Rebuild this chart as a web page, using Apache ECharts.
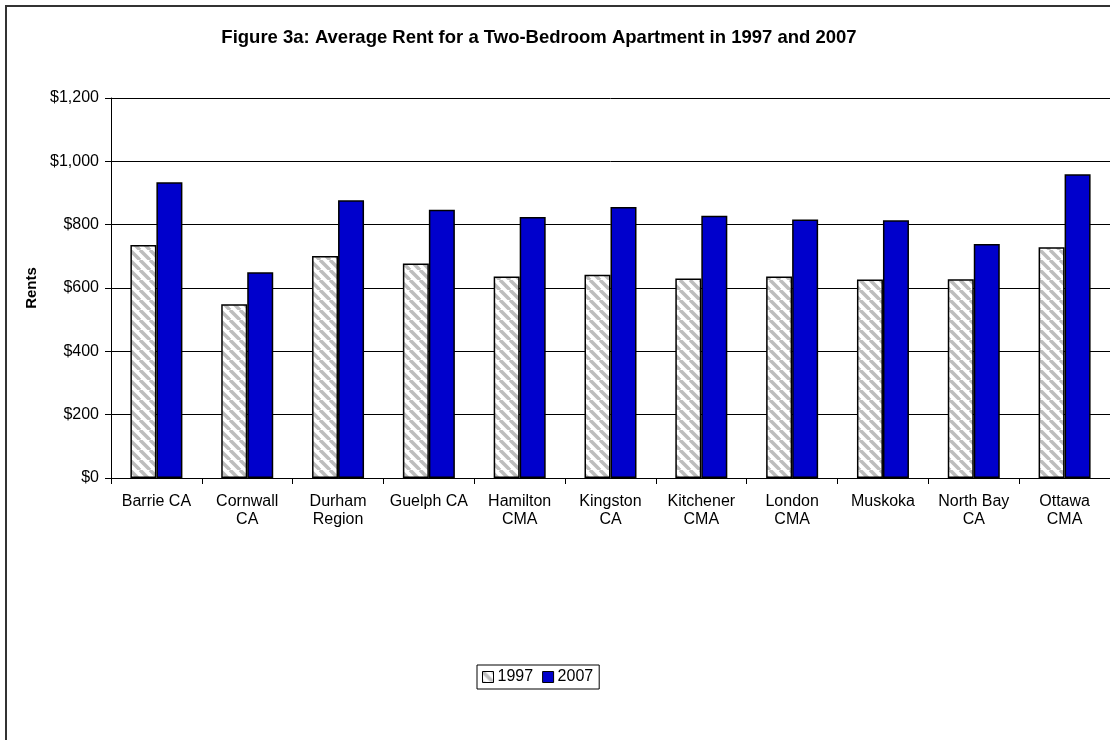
<!DOCTYPE html>
<html>
<head>
<meta charset="utf-8">
<title>Figure 3a</title>
<script src="https://cdn.jsdelivr.net/npm/echarts@6/dist/echarts.min.js"></script>
<style>
    html, body { margin: 0; padding: 0; background: #fff; }
    #main { width: 1110px; height: 740px; }
</style>
</head>
<body>
<div id="main"></div>
<script>
const categories = ['Barrie CA', 'Cornwall\nCA', 'Durham\nRegion', 'Guelph CA', 'Hamilton\nCMA', 'Kingston\nCA',
    'Kitchener\nCMA', 'London\nCMA', 'Muskoka', 'North Bay\nCA', 'Ottawa\nCMA'];
const rent1997 = [736, 549, 701, 677, 636, 642, 630, 636, 627, 628, 729];
const rent2007 = [934, 650, 877, 847, 824, 856, 828, 816, 814, 739, 959];
const seriesNames = ['1997', '2007'];
const yTicks = [0, 200, 400, 600, 800, 1000, 1200];

const font = "'Liberation Sans', Arial, sans-serif";

// grey diagonal hatch for the 1997 bars
const hatch = () => {
    let c = document.createElement('canvas');
    c.width = 10;
    c.height = 10;
    let ctx = c.getContext('2d');
    ctx.fillStyle = '#fff';
    ctx.fillRect(0, 0, 10, 10);
    ctx.strokeStyle = '#bdbdbd';
    ctx.lineWidth = 3.5;
    for (let k of [-10, 0, 10]) {
        ctx.beginPath();
        ctx.moveTo(k, 0);
        ctx.lineTo(k + 10, 10);
        ctx.stroke();
    }
    return c;
}

const money = (v) => '$' + v.toLocaleString('en-US');

let option = {
    animation: false,
    backgroundColor: '#fff',
    textStyle: { fontFamily: font },
    title: {
        text: 'Figure 3a: Average Rent for a Two-Bedroom Apartment in 1997 and 2007',
        left: 539,
        top: 28,
        padding: 0,
        textAlign: 'center',
        textStyle: { fontFamily: font, fontSize: 18.5, fontWeight: 'bold', color: '#000' }
    },
    graphic: [{
        type: 'rect',
        shape: { x: 6, y: 6, width: 1300, height: 900 },
        style: { fill: 'none', stroke: '#333', lineWidth: 2 },
        silent: true
    }],
    legend: {
        left: 477,
        top: 665,
        padding: [4, 6, 4, 5],
        borderColor: '#000',
        borderWidth: 1,
        itemWidth: 11,
        itemHeight: 11,
        itemGap: 9,
        icon: 'rect',
        textStyle: { fontFamily: font, fontSize: 16, color: '#000', padding: [0, 0, 0, -1] },
        itemStyle: { borderColor: '#000', borderWidth: 1 },
        data: seriesNames
    },
    grid: {
        left: 111,
        top: 98,
        width: 1002,
        bottom: 262,
        containLabel: false
    },
    xAxis: {
        type: 'category',
        data: categories,
        axisLine: { lineStyle: { color: '#000', width: 1 } },
        axisTick: { show: true, length: 6, interval: 0, alignWithLabel: false, lineStyle: { color: '#000' } },
        axisLabel: { interval: 0, margin: 15, fontSize: 16, lineHeight: 18, color: '#000', fontFamily: font },
        splitLine: { show: false }
    },
    yAxis: {
        type: 'value',
        min: yTicks[0],
        max: yTicks[yTicks.length - 1],
        interval: yTicks[1] - yTicks[0],
        name: 'Rents',
        nameLocation: 'middle',
        nameRotate: 90,
        nameGap: 72,
        nameTextStyle: { fontFamily: font, fontSize: 15, fontWeight: 'bold', color: '#000' },
        axisLine: { show: true, lineStyle: { color: '#000', width: 1 } },
        axisTick: { show: true, length: 6, lineStyle: { color: '#000' } },
        axisLabel: { margin: 12, fontSize: 16, color: '#000', fontFamily: font, formatter: money },
        splitLine: { show: true, lineStyle: { color: '#000', width: 1 } }
    },
    series: [
        {
            name: seriesNames[0],
            type: 'bar',
            barWidth: 26,
            barGap: '0%',
            data: rent1997,
            itemStyle: {
                color: { image: hatch(), repeat: 'repeat' },
                borderColor: '#000',
                borderWidth: 1.5
            }
        },
        {
            name: seriesNames[1],
            type: 'bar',
            barWidth: 26,
            barGap: '0%',
            data: rent2007,
            itemStyle: {
                color: '#0000cc',
                borderColor: '#000',
                borderWidth: 1.5
            }
        }
    ]
};

let myChart = echarts.init(document.getElementById('main'), null, { renderer: 'canvas' });
myChart.setOption(option);
</script>
</body>
</html>
